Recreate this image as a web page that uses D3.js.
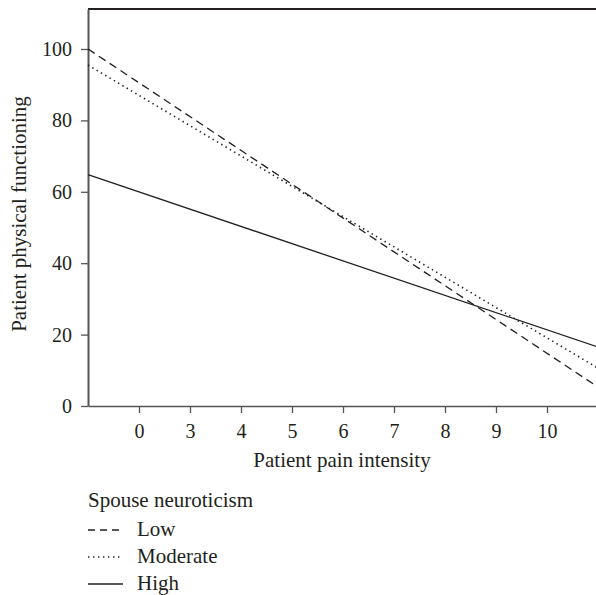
<!DOCTYPE html>
<html>
<head>
<meta charset="utf-8">
<script src="https://cdn.jsdelivr.net/npm/d3@7"></script>
<style>
  body { margin: 0; background: #fff; }
</style>
</head>
<body>
<div id="chart"></div>
<script>
// categories on the x axis (pain intensity)
const categories = ["0", "3", "4", "5", "6", "7", "8", "9", "10"];
const yTicks = [0, 20, 40, 60, 80, 100];
// line ends, as positions on the category index (-1 = left edge, 9 = right edge)
const lineEnds = [-1, 9];
const lowValues = [100, 5.3];
const moderateValues = [95.5, 10.6];
const highValues = [64.8, 16.5];
const seriesNames = ["Low", "Moderate", "High"];

const width = 596, height = 595;
const margin = { top: 9, right: -2, bottom: 189, left: 88 };
const font = "Liberation Serif";
const tickFs = "20px", labelFs = "21px";

const svg = d3.select("#chart").append("svg")
    .attr("width", width)
    .attr("height", height)
    .attr("font-family", font);

//scales
const x = d3.scalePoint()
    .domain(categories)
    .range([margin.left, width - margin.right])
    .padding(1);

const xi = d3.scaleLinear()
    .domain([-1, categories.length])
    .range(x.range());

const y = d3.scaleLinear()
    .domain([0, 111.2])
    .range([height - margin.bottom, margin.top]);

const ink = "#231f20";

// top frame
svg.append("line")
    .attr("x1", margin.left).attr("x2", width)
    .attr("y1", y(111.2)).attr("y2", y(111.2))
    .attr("stroke", ink).attr("stroke-width", 2);

//y axis
const yAxis = svg.append("g")
    .attr("transform", `translate(${margin.left},0)`)
    .call(d3.axisLeft(y).tickValues(yTicks).tickSize(7).tickPadding(9).tickSizeOuter(0));
yAxis.attr("font-family", font).attr("font-size", tickFs);
yAxis.select(".domain").attr("stroke", "#555").attr("stroke-width", 2);
yAxis.selectAll(".tick line").attr("stroke", "#555").attr("stroke-width", 1.3);
yAxis.selectAll("text").attr("fill", ink);

//x axis
const xAxis = svg.append("g")
    .attr("transform", `translate(0,${y(0)})`)
    .call(d3.axisBottom(x).tickSize(7).tickPadding(11).tickSizeOuter(0));
xAxis.attr("font-family", font).attr("font-size", tickFs);
xAxis.select(".domain").attr("stroke", "#555").attr("stroke-width", 1.5);
xAxis.selectAll(".tick line").attr("stroke", "#555").attr("stroke-width", 1.3);
xAxis.selectAll("text").attr("fill", ink);

// axis titles
svg.append("text")
    .attr("x", (margin.left + width) / 2).attr("y", 467)
    .attr("text-anchor", "middle")
    .attr("font-size", labelFs)
    .attr("fill", ink)
    .text("Patient pain intensity");

svg.append("text")
    .attr("transform", "translate(26,214) rotate(-90)")
    .attr("text-anchor", "middle")
    .attr("font-size", labelFs)
    .attr("fill", ink)
    .text("Patient physical functioning");

// lines
const dashes = { Low: "8,5", Moderate: "1.4,3.6", High: null };
const series = [
    { name: "Low", values: lowValues },
    { name: "Moderate", values: moderateValues },
    { name: "High", values: highValues }
];

const line = d3.line()
    .x(d => xi(d.pos))
    .y(d => y(d.value));

svg.append("g")
    .selectAll("path")
    .data(series)
    .join("path")
    .attr("d", s => line(s.values.map((v, i) => ({ pos: lineEnds[i], value: v }))))
    .attr("fill", "none")
    .attr("stroke", ink)
    .attr("stroke-width", d => d.name === "Moderate" ? 1.6 : 1.3)
    .attr("stroke-dasharray", d => dashes[d.name]);

// legend
const legend = svg.append("g").attr("transform", "translate(88,0)");
legend.append("text")
    .attr("x", 0).attr("y", 507)
    .attr("font-size", labelFs)
    .attr("fill", ink)
    .text("Spouse neuroticism");

const items = legend.selectAll(".item")
    .data(seriesNames)
    .join("g")
    .attr("class", "item")
    .attr("transform", (d, i) => `translate(0,${530 + i * 27})`);

items.append("line")
    .attr("x1", 0).attr("x2", 35)
    .attr("stroke", ink)
    .attr("stroke-width", d => d === "Moderate" ? 1.4 : 1.3)
    .attr("stroke-dasharray", d => d === "Low" ? "7,5" : dashes[d]);

items.append("text")
    .attr("x", 49).attr("y", 6)
    .attr("font-size", labelFs)
    .attr("fill", ink)
    .text(d => d);
</script>
</body>
</html>
